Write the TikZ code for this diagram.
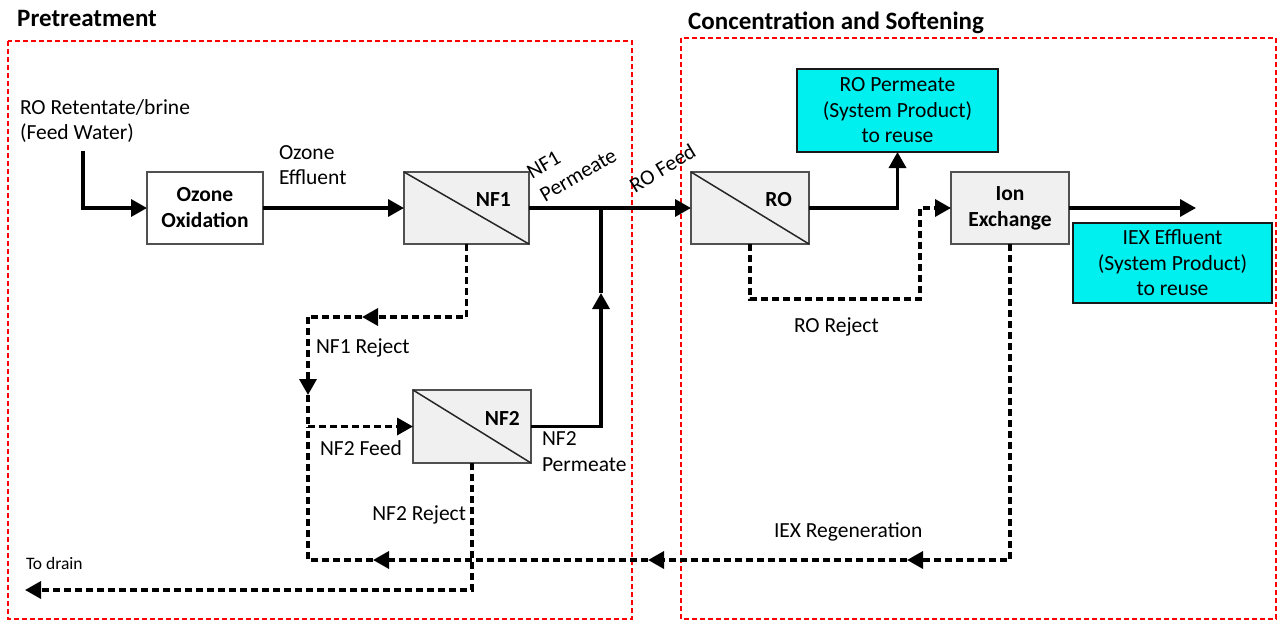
\documentclass[tikz,border=0pt]{standalone}
\usepackage{fontspec}
\setmainfont{Carlito}
\usetikzlibrary{arrows.meta,calc}

\definecolor{cyanbox}{RGB}{0,240,240}
\definecolor{unitfill}{RGB}{240,240,240}
\definecolor{unitedge}{RGB}{80,80,80}

\begin{document}
\begin{tikzpicture}[x=1pt,y=-1pt,
  lbl/.style={font=\fontsize{21.5}{25.5}\selectfont, inner sep=0pt, outer sep=0pt, anchor=base west},
  tag/.style={font=\bfseries\fontsize{21.5}{26}\selectfont, inner sep=0pt, anchor=base east},
  heading/.style={font=\bfseries\fontsize{25}{30}\selectfont, inner sep=0pt, anchor=base west},
  procbox/.style={draw=unitedge, line width=1.5pt, fill=white, inner sep=0pt, outer sep=0pt,
    minimum height=72pt, align=center, font=\bfseries\fontsize{21.5}{26}\selectfont},
  membrane/.style={procbox, fill=unitfill},
  product/.style={draw=black!90, line width=2.8pt, fill=cyanbox, inner sep=0pt, outer sep=0pt,
    align=center, font=\fontsize{21.6}{25.5}\selectfont},
  zone/.style={draw=red, line width=2pt, dash pattern=on 5pt off 3pt},
  pipe/.style={line width=3.4pt},
  flow/.style={pipe, -{Triangle[length=16pt,width=17pt]}},
  dpipe/.style={line width=3.4pt, dash pattern=on 7pt off 4pt},
  dflow/.style={dpipe, -{Triangle[length=16pt,width=17pt]}},
  sieve/.style={line width=1.5pt, draw=black!85}
]
\useasboundingbox (0,0) rectangle (1278,621);

% process zones
\draw[zone] (8,41) rectangle (632,619);
\draw[zone] (681,38) rectangle (1276,619);
\node[heading] (pretitle) at (17,27) {Pretreatment};
\node[heading] (contitle) at (688,29) {Concentration and Softening};

% units
\node[procbox, minimum width=116pt] (ozone) at (205,208) {Ozone\\Oxidation};
\node[membrane, minimum width=125pt] (nf1) at (466.5,208) {};
\node[membrane, minimum width=118pt, minimum height=73pt] (nf2) at (472,426.5) {};
\node[membrane, minimum width=118pt] (ro) at (750,208) {};
\node[membrane, minimum width=118pt] (iex) at (1010,208) {Ion\\Exchange};
\node[product, minimum width=201pt, minimum height=83pt] (roperm) at (897.5,110.5) {RO Permeate\\(System Product)\\to reuse};
\node[product, minimum width=199pt, minimum height=80pt] (iexeff) at (1172.5,263) {IEX Effluent\\(System Product)\\to reuse};

% membrane symbols
\draw[sieve] (nf1.north west) -- (nf1.south east);
\draw[sieve] (nf2.north west) -- (nf2.south east);
\draw[sieve] (ro.north west) -- (ro.south east);
\node[tag] (nf1tag) at (511,206) {NF1};
\node[tag] (nf2tag) at (520,425) {NF2};
\node[tag] (rotag) at (792,206) {RO};

% routing points
\coordinate (feedin) at (83,151);
\coordinate (permjoin) at (601,208);
\coordinate (permtip) at (601,293);
\coordinate (rejturn) at (308,317);
\coordinate (rejtip) at (362,317);
\coordinate (rejdown) at (308,395);
\coordinate (feedjoin) at (308,426.5);
\coordinate (regcorner) at (308,560);
\coordinate (regtipA) at (907,560);
\coordinate (regtipB) at (648,560);
\coordinate (regtipC) at (373,560);
\coordinate (drain) at (25,590);
\coordinate (rorej) at (920,299);
\coordinate (iexout) at (1196,208);

% main stream
\draw[flow] (feedin) |- (ozone.west);
\draw[flow] (ozone.east) -- (nf1.west);
\draw[flow] (nf1.east) -- (ro.west);
\draw[flow] (nf2.east) -| (permtip);
\draw[pipe] (permtip) -- (permjoin);
\draw[flow] (ro.east) -| (roperm.south);
\draw[flow] (iex.east) -- (iexout);

% reject and recycle streams
\draw[dflow] (nf1.south) |- (rejtip);
\draw[dpipe] (rejtip) -- (rejturn);
\draw[dflow] (rejturn) -- (rejdown);
\draw[dpipe] (rejdown) -- (feedjoin);
\draw[dflow] (feedjoin) -- (nf2.west);
\draw[dflow] (iex.south) |- (regtipA);
\draw[dflow] (regtipA) -- (regtipB);
\draw[dflow] (regtipB) -- (regtipC);
\draw[dpipe] (regtipC) -- (regcorner) -- (feedjoin);
\draw[dflow] (nf2.south) |- (drain);
\draw[dflow] (ro.south) |- (rorej) |- (iex.west);

% stream labels
\node[lbl] (feedA) at (20,114) {RO Retentate/brine};
\node[lbl] (feedB) at (20,139) {(Feed Water)};
\node[lbl] (ozeffA) at (279,159) {Ozone};
\node[lbl] (ozeffB) at (279,184) {Effluent};
\node[lbl, rotate=30] (nf1permA) at (532,179) {NF1};
\node[lbl, rotate=30] (nf1permB) at (545,202) {Permeate};
\node[lbl, rotate=31] (rofeed) at (635,193) {RO Feed};
\node[lbl] (nf1rej) at (316,353) {NF1 Reject};
\node[lbl] (nf2feed) at (320,455) {NF2 Feed};
\node[lbl] (nf2permA) at (542,445) {NF2};
\node[lbl] (nf2permB) at (542,471) {Permeate};
\node[lbl, anchor=base east] (nf2rej) at (466,520) {NF2 Reject};
\node[lbl, font=\fontsize{17.5}{20}\selectfont] (todrain) at (26,569) {To drain};
\node[lbl] (rorejlbl) at (794,332) {RO Reject};
\node[lbl] (iexregen) at (774,537) {IEX Regeneration};
\end{tikzpicture}
\end{document}
